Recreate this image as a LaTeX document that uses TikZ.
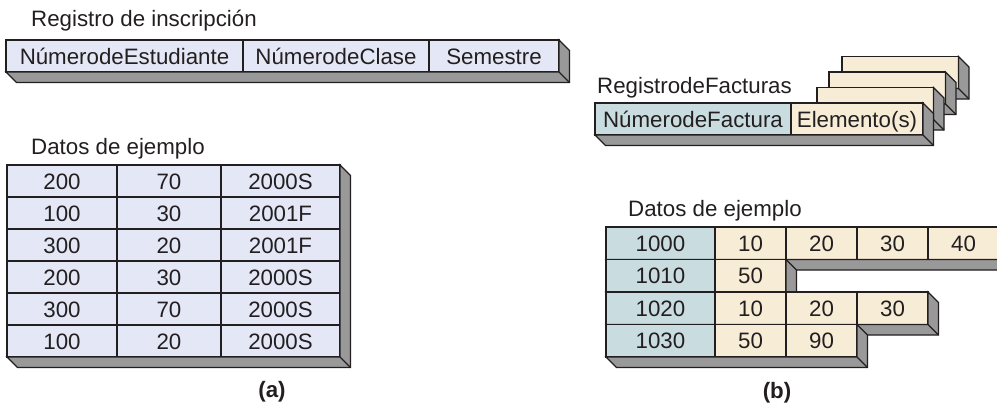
\documentclass[tikz,border=0pt]{standalone}
\usepackage{fontspec}
\setmainfont{Liberation Sans}
\usepackage{xcolor}
\usepackage{tikz}
\usetikzlibrary{positioning}
\definecolor{lav}{RGB}{228,232,246}
\definecolor{keyblue}{RGB}{201,221,224}
\definecolor{cream}{RGB}{247,237,215}
\definecolor{slabgray}{RGB}{153,153,153}
\definecolor{ink}{RGB}{35,31,32}

\begin{document}
\begin{tikzpicture}[
  x=1pt,y=-1pt,
  font=\fontsize{22.3}{26}\selectfont,
  cell/.style={rectangle,draw=ink,line width=1.2pt,anchor=north west,inner sep=0pt,outer sep=0pt,minimum height=32pt,text height=16pt,text depth=0pt,text=ink},
  heading/.style={anchor=base west,inner sep=0pt,text=ink},
  slab/.style={draw=ink,line width=1.2pt,fill=slabgray},
  rim/.style={draw=ink,line width=1.2pt},
]
\useasboundingbox (0,0) rectangle (997,407);
\clip (0,0) rectangle (997,407);

% (a) enrolment record
\node[heading] (regtitle) at (31,26) {Registro de inscripción};
\node[cell,fill=lav,minimum width=237pt] (est) at (6,40) {NúmerodeEstudiante};
\node[cell,fill=lav,minimum width=186pt,right=0pt of est] (clase) {NúmerodeClase};
\node[cell,fill=lav,minimum width=130pt,right=0pt of clase] (sem) {Semestre};
\draw[slab] (est.south west) -- ++(10.5,10.5) -| ([shift={(10.5,10.5)}]sem.north east) -- (sem.north east) -- (sem.south east) -- cycle;
\draw[rim] (sem.south east) -- ++(10.5,10.5);

% (a) sample data
\node[heading] (datatitlea) at (31,154) {Datos de ejemplo};
\foreach \v/\w/\s [count=\r from 0] in {200/70/2000S, 100/30/2001F, 300/20/2001F, 200/30/2000S, 300/70/2000S, 100/20/2000S} {
  \node[cell,fill=lav,minimum width=110pt] (a\r-1) at (7,165+32*\r) {\v};
  \node[cell,fill=lav,minimum width=104pt] (a\r-2) at (117,165+32*\r) {\w};
  \node[cell,fill=lav,minimum width=119pt] (a\r-3) at (221,165+32*\r) {\s};
}
\draw[slab] (a5-1.south west) -- ++(10.5,10.5) -| ([shift={(10.5,10.5)}]a0-3.north east) -- (a0-3.north east) -- (a5-3.south east) -- cycle;
\draw[rim] (a5-3.south east) -- ++(10.5,10.5);
\node[font=\fontsize{22.3}{26}\selectfont\bfseries,text=ink] (capa) at (272,392) {(a)};

% (b) invoice record with repeating items
\node[heading] (invtitle) at (597,93) {RegistrodeFacturas};
\foreach \i/\x/\y in {3/842/56.5, 2/829/72, 1/817/87.5} {
  \node[cell,fill=cream,minimum width=116.5pt] (stack\i) at (\x,\y) {};
  \draw[slab] (stack\i.south west) -- ++(10.5,10.5) -| ([shift={(10.5,10.5)}]stack\i.north east) -- (stack\i.north east) -- (stack\i.south east) -- cycle;
  \draw[rim] (stack\i.south east) -- ++(10.5,10.5);
}
\node[cell,fill=keyblue,minimum width=196pt] (fnum) at (595,103) {NúmerodeFactura};
\node[cell,fill=cream,minimum width=132pt,right=0pt of fnum] (elem) {Elemento(s)};
\draw[slab] (fnum.south west) -- ++(10.5,10.5) -| ([shift={(10.5,10.5)}]elem.north east) -- (elem.north east) -- (elem.south east) -- cycle;
\draw[rim] (elem.south east) -- ++(10.5,10.5);

% (b) sample data
\node[heading] (datatitleb) at (628,216) {Datos de ejemplo};
\foreach \id/\n/\items [count=\r from 0] in {1000/4/{10,20,30,40}, 1010/1/{50}, 1020/3/{10,20,30}, 1030/2/{50,90}} {
  \node[cell,fill=keyblue,minimum width=109pt,minimum height=32.5pt] (b\r) at (606,227+32.5*\r) {\id};
  \foreach \v [count=\c] in \items
    \node[cell,fill=cream,minimum width=71pt,minimum height=32.5pt] (b\r-\c) at (644+71*\c,227+32.5*\r) {\v};
  \draw[slab] (b\r.south west) -- ++(10.5,10.5) -| ([shift={(10.5,10.5)}]b\r-\n.north east) -- (b\r-\n.north east) -- (b\r-\n.south east) -- cycle;
  \draw[rim] (b\r-\n.south east) -- ++(10.5,10.5);
}
\node[font=\fontsize{22.3}{26}\selectfont\bfseries,text=ink] (capb) at (777,393) {(b)};
\end{tikzpicture}
\end{document}
